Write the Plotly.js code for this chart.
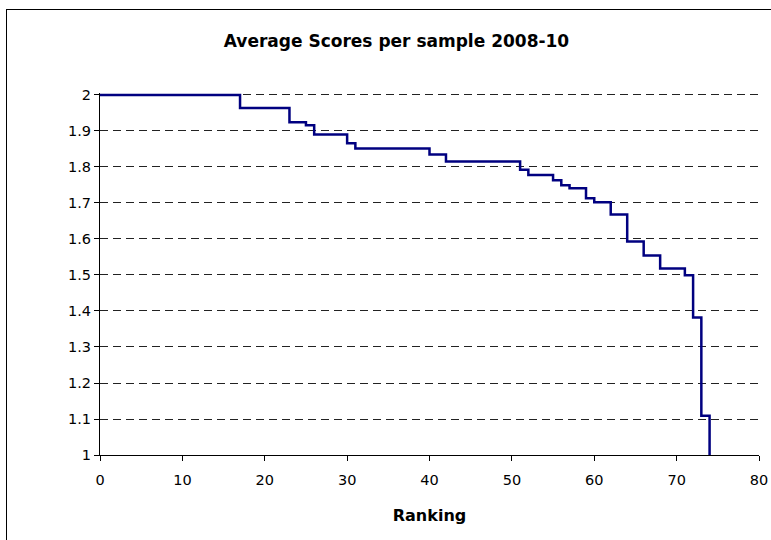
<!DOCTYPE html>
<html>
<head>
<meta charset="utf-8">
<script src="https://cdn.plot.ly/plotly-3.0.1.min.js"></script>
<style>
  html, body { margin: 0; padding: 0; background: #fff; overflow: hidden; }
  #chart { width: 771px; height: 540px; position: absolute; left: 0; top: 0; }
  #frame { position: absolute; left: 6px; top: 9px; width: 800px; height: 600px;
           border-left: 1px solid #000; border-top: 1px solid #000; pointer-events: none; }
</style>
</head>
<body>
<div id="chart"></div>
<div id="frame"></div>
<script>
// Ranking positions where the average score changes (step function)
const ranking = [0, 17, 23, 25, 26, 30, 31, 40, 42, 51, 52, 55, 56, 57, 59, 60, 62, 64, 66, 68, 71, 72, 73, 74];
// Average score per sample starting at each ranking position
const avgScore = [2.0, 1.964, 1.924, 1.916, 1.890, 1.866, 1.851, 1.835, 1.815, 1.792, 1.778, 1.763, 1.749, 1.741, 1.713, 1.702, 1.668, 1.593, 1.554, 1.518, 1.499, 1.382, 1.109, 1.0];

const chartTitle = "Average Scores per sample 2008-10";
const xTitle = "Ranking";

const trace = {
  x: ranking,
  y: avgScore,
  type: "scatter",
  mode: "lines",
  line: { shape: "hv", color: "#000080", width: 2.5 },
  cliponaxis: false,
  hoverinfo: "x+y"
};

const layout = {
  width: 771,
  height: 540,
  paper_bgcolor: "#fff",
  plot_bgcolor: "#fff",
  margin: { l: 99.5, r: 11.7, t: 92.5, b: 84.7, pad: 0 },
  showlegend: false,
  title: {
    text: "<b>" + chartTitle + "</b>",
    font: { family: "DejaVu Sans", size: 17, color: "#000" },
    xref: "container", yref: "container",
    x: 396.5 / 771, xanchor: "center",
    y: 1 - 41 / 540, yanchor: "middle"
  },
  xaxis: {
    range: [0, 80],
    dtick: 10,
    tick0: 0,
    showgrid: false,
    zeroline: false,
    showline: true,
    linecolor: "#000",
    linewidth: 1,
    ticks: "outside",
    ticklen: 5,
    tickcolor: "#000",
    ticklabelstandoff: 7,
    tickfont: { family: "DejaVu Sans", size: 14.5, color: "#000" },
    title: {
      text: "<b>" + xTitle + "</b>",
      font: { family: "DejaVu Sans", size: 16, color: "#000" },
      standoff: 22
    },
    fixedrange: true
  },
  yaxis: {
    range: [1, 2.0055],
    dtick: 0.1,
    tick0: 1,
    showgrid: true,
    gridcolor: "#222",
    gridwidth: 1,
    griddash: "8px,5px",
    zeroline: false,
    showline: true,
    linecolor: "#000",
    linewidth: 1,
    ticks: "outside",
    ticklen: 5,
    tickcolor: "#000",
    tickfont: { family: "DejaVu Sans", size: 14.5, color: "#000" },
    fixedrange: true
  }
};

Plotly.newPlot("chart", [trace], layout, { displayModeBar: false, staticPlot: true });
</script>
</body>
</html>
